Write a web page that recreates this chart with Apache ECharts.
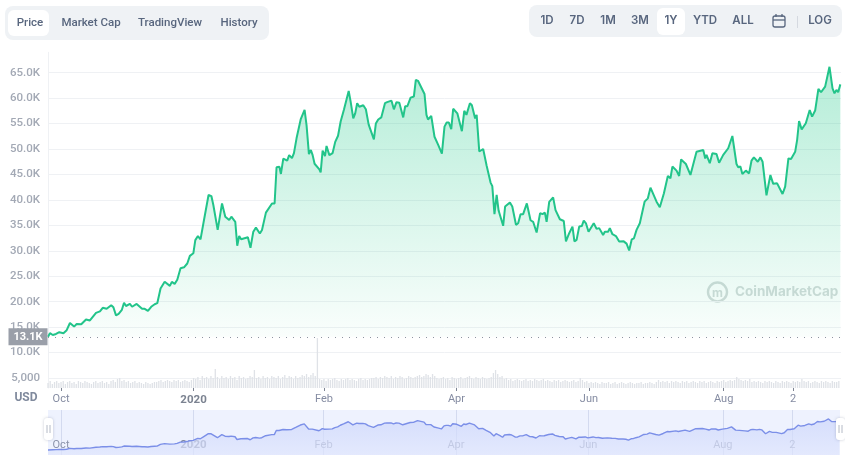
<!DOCTYPE html>
<html>
<head>
<meta charset="utf-8">
<style>
  html, body { margin: 0; padding: 0; background: #fff; }
  #main { width: 845px; height: 465px; }
</style>
<script src="https://cdn.jsdelivr.net/npm/echarts@6/dist/echarts.min.js"></script>
</head>
<body>
<div id="main"></div>
<script>
// day number since the start of the window
const days = [0,0.9,2.2,3.7,5.2,7.1,8.6,10.1,11,12,13.2,15.3,17.5,19.3,20.2,22.1,23.9,25.2,27,27.9,29.1,30.1,31.3,32.5,34,35,35.9,37.7,38.7,40.8,41.7,43.3,44.5,46,47.5,49.1,50.3,51.8,53.7,54.6,56.1,57,58.3,59.5,61,62.6,64.1,65.3,66.9,67.8,69,70.2,71.8,73.9,75.2,76.1,78.1,80.1,81.6,83.4,84.4,86.2,87.1,88,88.9,92,93.2,94.5,95.7,96.6,97.5,98.5,100.3,101.2,103.1,104.3,105.2,106.5,107.2,108.3,110.1,111,112.3,113.2,114.4,115.2,116.3,118.1,119,120.1,121,121.8,122.7,124.9,125.5,126.4,127.5,128.2,129.5,131,132.2,133.5,134.7,136.2,137.1,138.4,139.3,140.5,141.4,142.3,143.3,145.1,146.3,147.6,148.5,150,150.9,152,153.4,155.1,156.1,158.1,159.2,160.4,161.7,163.5,164.4,165.4,166.9,168.4,169.3,170.3,171.2,173.3,174.2,174.9,176.4,177.9,179.6,181.3,182.5,183.5,184.5,185.6,186.5,187.3,188.4,189.3,190.5,191.6,192.6,194.2,195.1,196.6,197.3,198.5,200.3,201.9,202.6,203.7,204.5,205.5,206.5,207.4,208.3,209.5,210.4,212.6,213.7,215.4,216.4,217.5,218.7,220.4,222.1,223.3,224.9,225.8,226.5,227.6,228.7,229.5,230.7,232.5,233.6,235.6,236.4,237.4,238.4,239.9,241.4,242.3,243.3,244.5,245.7,246.6,247.6,248.8,249.7,251.2,252.5,253.7,255.5,256.3,257.8,258.6,259.8,261.4,262.9,265,266.3,267.5,268.7,269.7,270.9,272.4,274.6,276.1,277.3,278.2,280.1,281.6,283.5,285.3,286.5,287.4,289.3,290.5,291.4,293.6,295.7,296.6,298.5,299.4,301.6,302.5,303.1,304.6,305.8,307.7,308.9,309.8,310.8,313.1,313.8,315,315.8,316.9,317.7,318.7,319.6,321.2,321.8,322.7,323.8,324.9,326.7,327.9,328.9,330.7,332.5,333.8,335.6,338.1,339.3,340.8,342,343.9,344.8,345.7,346.9,348.8,349.7,350.6,351.7,353.1,353.7,354.6,355.8,357.7,359.7,361.1,362,362.9,363.7,364.7]
// price in thousands of USD
const prices = [13.1,13.8,13.45,13.65,14,13.8,14.4,15.8,15.75,15.1,15.6,15.55,16.5,16.3,16.15,17.8,18.1,18.8,18.6,18.5,19.3,18.9,17.3,17.6,18.4,19.8,19.15,19.55,19,19.55,19.4,18.6,18.6,18.2,19,19.5,19.7,22.6,23.9,23.9,23.1,23.9,23.5,24.3,26.55,26.75,27.5,29,29.5,32.1,32.9,32.25,36.05,40.95,40.75,39,34.1,39.3,36.7,36.05,36.7,35.7,31,32.9,32.25,32.65,30.6,33.75,34.55,34.4,33.4,34.1,37.5,37.35,39.3,39.3,46.4,46.5,45.1,48.1,47.7,48.8,48.2,49.2,52.1,51.9,55.8,57.7,54.7,49,49.8,48.8,47.1,46,45.4,49.7,48.6,50.6,48.8,49.2,51.4,52.6,55.4,57.7,57.5,61.4,59.3,56,57,59,58.3,58.6,57.8,54.8,54.9,51.9,55,55.8,56.2,59,59.2,59.5,57.8,59.2,59.1,56.2,58.4,58.4,60.1,60.3,63.6,63.4,63.4,60.8,56.7,55.8,56.5,52.4,50.8,49.1,54.4,55.2,55.2,53.9,57.9,58,57,57.3,53.5,57.5,56.7,59,58.6,56,56.7,49.5,50,46.7,46.5,43.4,42.7,37.2,41,37.9,37.7,34.9,38.7,39.5,38.7,35.1,35.4,37.2,37.2,39.3,36,35.7,33.6,33.8,37.4,37.2,37.5,35.7,39.6,40.5,38,36.2,35.85,35.85,31.85,33.45,34.75,31.85,32.15,34.75,34.85,35.95,35.4,33.75,34.1,35.4,34.3,34.45,33.1,33.75,33.75,34.45,33.25,32.9,31.8,31.85,31.4,30.05,32.25,32.45,34.1,35.4,39.65,40.3,42.4,42.05,39.65,38.55,41.3,44.7,44.25,46.55,45.75,44.7,47.95,47.05,44.9,45.1,49.45,49.3,49.8,48.15,48.85,47.2,49.15,49,47.3,47.3,48.85,50.15,50.5,52.55,52.7,47.05,46.4,46.55,45.1,45.75,46,45.2,47.7,48.35,47.5,48.35,47.5,40.9,44.9,43.15,43.25,41.15,42.6,48.15,48.05,49.45,51.75,55.5,53.85,55.05,55.2,57.65,56.35,57.55,57.65,61.8,61.15,62.25,66.15,61.9,60.95,61.6,61.15,62.7]
// daily volume, one value per day, top of the lower panel is 50
const volumes = [
  5,7,4,6,7,5,6,7,4,6, 7,5,6,4,7,6,5,7,6,5, 4,6,7,5,6,7,5,6,4,7,
  8,6,9,10,7,8,6,7,5,6, 7,5,6,5,4,6,5,4,5,6, 6,7,8,6,7,8,7,6,8,7,
  8,6,7,8,7,6,8,10,9,11, 8,12,10,11,9,12,10,19,11,9, 12,10,11,9,12,10,11,8,12,10,
  11,9,10,12,11,18,10,11,9,12, 10,11,9,12,11,10,12,9,11,13, 10,12,11,9,12,10,11,13,12,14,
  11,13,15,12,50,9,8,9,7,9, 8,9,10,8,7,9,8,9,10,8, 9,8,7,9,10,8,9,8,9,10,
  10,11,9,11,10,12,11,10,12,9, 11,10,12,11,9,10,12,11,10,11, 12,13,11,12,14,13,11,14,12,10,
  9,10,11,9,10,8,11,10,9,10, 11,9,10,11,12,10,9,11,10,9, 11,10,9,10,11,15,18,14,11,12,
  9,10,8,9,7,8,9,8,7,8, 9,7,8,7,9,8,7,8,9,7, 8,7,6,8,7,8,6,7,8,7,
  6,7,8,6,7,10,8,6,7,5, 6,5,6,5,4,6,5,5,6,4, 5,6,4,5,6,5,4,5,6,5, 4,5,5,6,4,5,5,6,5,4,
  6,8,6,7,6,7,5,7,6,7, 6,5,7,6,7,5,6,7,6,5, 7,6,7,5,6,7,6,5,7,6, 7,8,6,7,8,7,8,11,9,8,
  7,8,7,9,6,7,6,7,6,5, 7,6,7,6,5,7,6,5,7,6, 7,6,5,7,6,7,6,9,7,6, 7,5,6,7,6,5,7,6,7,6,
  5,7,6,6,7
]
const tickDays = [6, 67, 127, 188, 249, 311, 343]
const tickLabels = ['Oct', '2020', 'Feb', 'Apr', 'Jun', 'Aug', '2']
const yearLabel = '2020'
const startPrice = 13.1
const tabLabels = ['Price', 'Market Cap', 'TradingView', 'History']
const tabCenters = [30, 91, 170, 239]
const rangeLabels = ['1D', '7D', '1M', '3M', '1Y', 'YTD', 'ALL', 'LOG']
const rangeCenters = [547, 577, 608, 640, 671, 705, 743, 820]

const font = 'Inter, "Noto Sans", sans-serif'
const axisFont = 'Roboto, "Noto Sans", sans-serif'
const dayLabel = d => tickLabels[tickDays.indexOf(d)]
const xLabelFmt = d => dayLabel(d) === yearLabel ? '{b|' + yearLabel + '}' : dayLabel(d)

const priceData = days.map((d, i) => [d, prices[i]])
const volumeData = volumes.map((v, i) => [i, v])

function text(x, y, s, fill, size, weight, align, family) {
  return { type: 'text', x: x, y: y, silent: true, style: {
    text: s, fill: fill, font: (weight || 600) + ' ' + (size || 12) + 'px ' + (family || font),
    align: align || 'center', verticalAlign: 'middle' } }
}
function box(x, y, w, h, r, fill) {
  return { type: 'rect', silent: true, shape: { x: x, y: y, width: w, height: h, r: r }, style: { fill: fill } }
}
function seg(x1, y1, x2, y2, stroke, w) {
  return { type: 'line', silent: true, shape: { x1: x1, y1: y1, x2: x2, y2: y2 }, style: { stroke: stroke, lineWidth: w || 1 } }
}
function handle(x) {
  return [
    { type: 'rect', silent: true, z: 20, shape: { x: x - 4, y: 418, width: 9, height: 22, r: 3 },
      style: { fill: '#fff', shadowBlur: 3, shadowColor: 'rgba(90,100,130,.35)' } },
    Object.assign(seg(x - 1, 425, x - 1, 433, '#b4bac6'), { z: 21 }),
    Object.assign(seg(x + 2, 425, x + 2, 433, '#b4bac6'), { z: 21 })
  ]
}

const btnColor = '#58667e'
const markColor = 'rgba(150,170,168,.42)'
const graphics = [
  box(5, 6, 264, 34, 8, '#eff2f5'),
  box(8, 10, 41, 26, 6, '#ffffff'),
  box(529, 5, 313, 32, 8, '#eff2f5'),
  box(657, 8, 28, 27, 6, '#ffffff'),
  // calendar icon
  { type: 'rect', silent: true, shape: { x: 773, y: 16, width: 12, height: 11, r: 2 }, style: { fill: 'none', stroke: btnColor, lineWidth: 1.3 } },
  seg(773, 20, 785, 20, btnColor, 1.3),
  seg(776, 14, 776, 17, btnColor, 1.3),
  seg(782, 14, 782, 17, btnColor, 1.3),
  seg(797.5, 16, 797.5, 28, '#d5d9e0'),
  text(26, 398, 'USD', '#808a9d', 12, 700, 'center', axisFont),
  // watermark
  { type: 'circle', silent: true, shape: { cx: 717.5, cy: 292, r: 9.5 }, style: { fill: 'none', stroke: markColor, lineWidth: 2.4 } },
  text(717.5, 293, 'm', markColor, 12, 700),
  text(735, 292, 'CoinMarketCap', markColor, 13.5, 700, 'left')
]
  .concat(tabLabels.map((s, i) => text(tabCenters[i], 23, s, btnColor, 11.5, 500, 'center', axisFont)))
  .concat(rangeLabels.map((s, i) => text(rangeCenters[i], 21, s, btnColor, 11.5, 600)))
  .concat(handle(48), handle(840))

const myChart = echarts.init(document.getElementById('main'))
myChart.setOption({
  animation: false,
  backgroundColor: '#fff',
  textStyle: { fontFamily: axisFont },
  graphic: graphics,
  grid: [
    { left: 48, right: 4, top: 52.3, bottom: 87 },
    { left: 48, right: 4, top: 338, bottom: 77 },
    { left: 48, right: 5, top: 410, bottom: 10, show: true, backgroundColor: '#eef2fe', borderWidth: 0 }
  ],
  xAxis: [
    { type: 'value', gridIndex: 0, min: 0, max: 365, show: false },
    { type: 'value', gridIndex: 1, min: 0, max: 365, splitLine: { show: false },
      axisLine: { show: false },
      axisTick: { customValues: tickDays, length: 3, lineStyle: { color: '#7d8493' } },
      axisLabel: { customValues: tickDays, formatter: xLabelFmt, color: '#858ca2', fontSize: 11, margin: 6,
        rich: { b: { fontWeight: 700, color: '#7c8391', fontSize: 11.5 } } } },
    { type: 'value', gridIndex: 2, min: 0, max: 365, splitLine: { show: false },
      axisLine: { show: false },
      axisTick: { customValues: tickDays, inside: true, length: 45, lineStyle: { color: '#d3daef' } },
      axisLabel: { customValues: tickDays, inside: true, formatter: xLabelFmt, color: '#8b93aa', fontSize: 11, margin: 4,
        rich: { b: { fontWeight: 700, color: '#7f87a0', fontSize: 11.5 } } } }
  ],
  yAxis: [
    { type: 'value', gridIndex: 0, min: 5, max: 69, interval: 5,
      axisLine: { show: true, lineStyle: { color: '#eff1f4' } },
      axisTick: { show: false },
      splitLine: { showMinLine: true, showMaxLine: false, lineStyle: { color: '#eff1f4' } },
      axisLabel: { showMaxLabel: false, color: '#a3a9b5', fontSize: 11.5, fontWeight: 500, margin: 8,
        formatter: v => v === 5 ? '5,000' : v.toFixed(1) + 'K' } },
    { type: 'value', gridIndex: 1, min: 0, max: 50, axisLabel: { show: false }, axisTick: { show: false },
      splitLine: { show: false }, axisLine: { show: true, lineStyle: { color: '#eff1f4' } } },
    { type: 'value', gridIndex: 2, min: 4.5, max: 81.5, show: false }
  ],
  series: [
    {
      type: 'bar', xAxisIndex: 1, yAxisIndex: 1, data: volumeData, barWidth: 1.3,
      itemStyle: { color: '#dfe2e7' }, silent: true
    },
    {
      type: 'line', xAxisIndex: 0, yAxisIndex: 0, data: priceData, showSymbol: false, silent: true, z: 3,
      lineStyle: { color: '#22c48a', width: 2 },
      areaStyle: {
        origin: startPrice,
        color: new echarts.graphic.LinearGradient(0, 0, 0, 1, [
          { offset: 0, color: 'rgba(22,199,132,.46)' },
          { offset: 1, color: 'rgba(22,199,132,.03)' }
        ])
      },
      markLine: {
        silent: true, symbol: 'none', animation: false,
        data: [{ yAxis: startPrice }],
        lineStyle: { type: [1, 6], color: '#8d94a0', width: 1 },
        label: {
          position: 'start', distance: 0, offset: [-20, 0], formatter: startPrice + 'K', color: '#fff', fontSize: 11, fontWeight: 700,
          backgroundColor: '#9a9fa9', width: 39, height: 17, lineHeight: 17, align: 'center'
        }
      }
    },
    {
      type: 'line', xAxisIndex: 2, yAxisIndex: 2, data: priceData, showSymbol: false, silent: true,
      lineStyle: { color: '#7b8fe8', width: 1.4 },
      areaStyle: {
        color: new echarts.graphic.LinearGradient(0, 0, 0, 1, [
          { offset: 0, color: '#ccd6fb' },
          { offset: 1, color: '#dfe5fd' }
        ])
      }
    }
  ]
})
window.onresize = myChart.resize
</script>
</body>
</html>
